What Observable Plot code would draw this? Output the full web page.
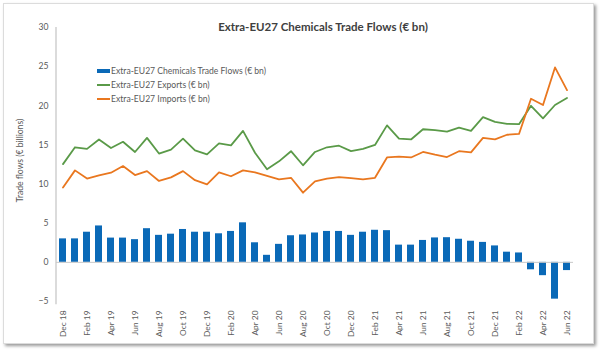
<!DOCTYPE html>
<html>
<head>
<meta charset="utf-8">
<script src="https://cdn.jsdelivr.net/npm/d3@7"></script>
<script src="https://cdn.jsdelivr.net/npm/@observablehq/plot@0.6"></script>
<style>
  html, body { margin: 0; padding: 0; background: #fff; }
  body { width: 602px; height: 355px; position: relative; overflow: hidden; font-family: Lato, "Open Sans", sans-serif; }
  #frame { position: absolute; left: 3px; top: 3px; width: 589px; height: 339px; border: 1px solid #dcdcdc; box-shadow: 2px 2px 3px #9a9a9a; background: #fff; }
  #chart { position: absolute; left: 0; top: 0; }
  #title { position: absolute; left: 0; width: 646px; top: 20px; text-align: center; font-weight: bold; font-size: 11.5px; color: #404040; }
  #legend { position: absolute; left: 97px; top: 64px; font-size: 8.6px; color: #595959; line-height: 14px; }
  #legend .row { display: flex; align-items: center; white-space: nowrap; }
  #legend .sw { display: inline-block; width: 13px; margin-right: 1px; }
</style>
</head>
<body>
<div id="frame"></div>
<div id="chart"></div>
<div id="title">Extra-EU27 Chemicals Trade Flows (€ bn)</div>
<div id="legend"></div>
<script>
const months = ["Dec 18","Jan 19","Feb 19","Mar 19","Apr 19","May 19","Jun 19","Jul 19","Aug 19","Sep 19","Oct 19","Nov 19",
  "Dec 19","Jan 20","Feb 20","Mar 20","Apr 20","May 20","Jun 20","Jul 20","Aug 20","Sep 20","Oct 20","Nov 20",
  "Dec 20","Jan 21","Feb 21","Mar 21","Apr 21","May 21","Jun 21","Jul 21","Aug 21","Sep 21","Oct 21","Nov 21",
  "Dec 21","Jan 22","Feb 22","Mar 22","Apr 22","May 22","Jun 22"];
const tradeFlows = [3.0,3.0,3.85,4.65,3.1,3.1,2.9,4.3,3.45,3.6,4.2,3.85,
  3.85,3.65,3.95,5.05,2.5,0.9,2.3,3.4,3.5,3.75,3.95,3.95,
  3.45,3.85,4.1,4.05,2.2,2.2,2.8,3.12,3.15,2.95,2.7,2.55,
  2.1,1.3,1.2,-0.95,-1.7,-4.7,-1.05];
const exportsBn = [12.55,14.7,14.5,15.7,14.6,15.4,14.1,15.9,13.9,14.4,15.8,14.3,
  13.8,15.2,14.95,16.8,14.0,11.9,12.9,14.2,12.4,14.1,14.7,14.9,
  14.2,14.5,15.0,17.5,15.8,15.7,17.0,16.9,16.7,17.2,16.8,18.55,
  17.95,17.7,17.65,20.0,18.4,20.1,21.0];
const importsBn = [9.55,11.75,10.7,11.1,11.45,12.3,11.15,11.65,10.4,10.85,11.65,10.5,
  9.95,11.5,11.0,11.75,11.5,11.05,10.6,10.8,8.9,10.35,10.7,10.9,
  10.75,10.6,10.8,13.4,13.5,13.4,14.1,13.75,13.45,14.2,14.05,15.9,
  15.7,16.3,16.4,20.9,20.1,24.9,22.0];
const yTicks = [-5,0,5,10,15,20,25,30];
const seriesNames = ["Extra-EU27 Chemicals Trade Flows (€ bn)","Extra-EU27 Exports (€ bn)","Extra-EU27 Imports (€ bn)"];
const colors = ["#0a69b7","#5a9a48","#e9771f"];

const rows = months.map((m, i) => ({month: m, flow: tradeFlows[i], exp: exportsBn[i], imp: importsBn[i]}));
const shownLabels = new Set(months.filter((m, i) => i % 2 === 0));

const chart = Plot.plot({
  width: 602,
  height: 355,
  marginLeft: 56,
  marginRight: 29,
  marginTop: 27,
  marginBottom: 54,
  style: {fontFamily: "Lato, 'Open Sans', sans-serif", background: "transparent", color: "#595959"},
  x: {type: "band", domain: months, paddingInner: 0.42, paddingOuter: 0.21},
  y: {domain: [-5, 30]},
  marks: [
    Plot.ruleX([0], {x: () => months[0], y1: -5.4, y2: 30, dx: -7, stroke: "#cfcfcf", strokeWidth: 1.5}),
    Plot.barY(rows, {x: "month", y: "flow", fill: colors[0]}),
    Plot.ruleY([0], {stroke: "#c8c8c8", strokeWidth: 1}),
    Plot.lineY(rows, {x: "month", y: "exp", stroke: colors[1], strokeWidth: 1.8}),
    Plot.lineY(rows, {x: "month", y: "imp", stroke: colors[2], strokeWidth: 1.8}),
    Plot.axisY({ticks: yTicks, tickSize: 0, tickPadding: 8, fontSize: 8.6, label: null}),
    Plot.text(["Trade flows (€ billions)"], {frameAnchor: "left", textAnchor: "middle", dx: -36, dy: -4, rotate: -90, fontSize: 8.6, fill: "#595959"}),
    Plot.axisX({tickSize: 0, tickRotate: -90, tickPadding: 9, fontSize: 8.4, label: null,
      tickFormat: d => shownLabels.has(d) ? d : ""})
  ]
});
document.getElementById("chart").appendChild(chart);

const legend = document.getElementById("legend");
seriesNames.forEach((name, i) => {
  const row = document.createElement("div");
  row.className = "row";
  const sw = document.createElement("span");
  sw.className = "sw";
  sw.style.height = i === 0 ? "4px" : "2px";
  sw.style.background = colors[i];
  row.appendChild(sw);
  row.appendChild(document.createTextNode(name));
  legend.appendChild(row);
});
</script>
</body>
</html>
